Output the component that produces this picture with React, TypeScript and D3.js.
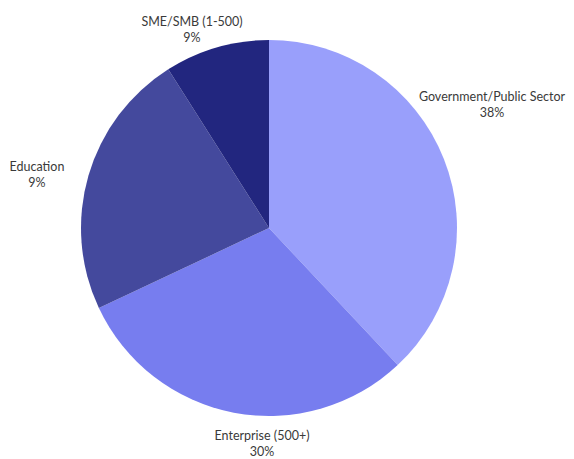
import React from "react";
import * as d3 from "d3";

const categories = ["Government/Public Sector", "Enterprise (500+)", "Education", "SME/SMB (1-500)"];
const values = [38, 30, 23, 9];
const percentLabels = ["38%", "30%", "9%", "9%"];
const colors = ["#999ffb", "#777def", "#44499d", "#22267f"];

const W = 574;
const H = 459;
const cx = 269;
const cy = 228;
const R = 188;

// label anchor positions (layout)
const labelAnchors: [number, number][] = [
  [492, 101],
  [262, 440],
  [37, 171],
  [192, 26],
];

export default function App() {
  const pie = d3.pie<number>().sort(null).value((d) => d);
  const arcs = pie(values);
  const arc = d3.arc<d3.PieArcDatum<number>>().innerRadius(0).outerRadius(R);
  return (
    <svg
      width={W}
      height={H}
      style={{ position: "absolute", left: 0, top: 0, background: "#fff" }}
      fontFamily="Lato, 'Open Sans', sans-serif"
    >
      <rect width={W} height={H} fill="#fff" />
      <g transform={`translate(${cx},${cy})`}>
        {arcs.map((a, i) => (
          <path key={i} d={arc(a) || ""} fill={colors[i]} />
        ))}
      </g>
      {categories.map((c, i) => (
        <text
          key={c}
          x={labelAnchors[i][0]}
          y={labelAnchors[i][1]}
          textAnchor="middle"
          fontSize={12.5}
          fill="#3a3a3a"
        >
          <tspan x={labelAnchors[i][0]}>{c}</tspan>
          <tspan x={labelAnchors[i][0]} dy={15.5}>
            {percentLabels[i]}
          </tspan>
        </text>
      ))}
    </svg>
  );
}
